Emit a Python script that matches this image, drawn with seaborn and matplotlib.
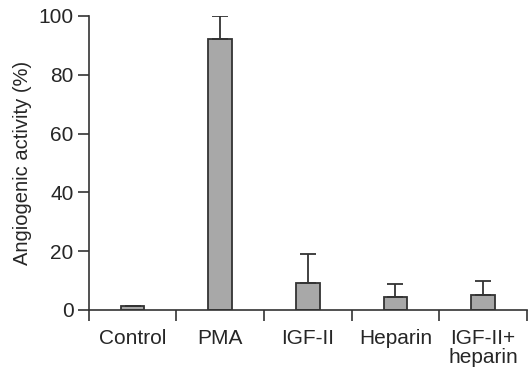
import matplotlib
matplotlib.use("Agg")
import matplotlib.pyplot as plt
import seaborn as sns
import numpy as np
import pandas as pd

categories = ["Control", "PMA", "IGF-II", "Heparin", "IGF-II+\nheparin"]
values = [1.5, 92, 9, 4.3, 5]
errors = [0, 8, 10, 4.6, 5]

sns.set_style("ticks")
plt.rcParams['font.family'] = ['Liberation Sans', 'DejaVu Sans']

fig = plt.figure(figsize=(5.29, 3.69), dpi=100)
ax = fig.add_axes([0.168, 0.160, 0.828, 0.797])

df = pd.DataFrame({"cat": categories, "val": values})
sns.barplot(data=df, x="cat", y="val", order=categories, color="#a8a8a8",
            edgecolor="#333333", linewidth=1.3, width=0.27, saturation=1, ax=ax)

pos = np.arange(len(categories))
ax.errorbar(pos, values, yerr=[np.zeros(len(errors)), errors], fmt="none",
            ecolor="#333333", elinewidth=1.3, capsize=6, capthick=1.3)

ax.set_xlim(-0.5, len(categories) - 0.5)
ax.set_ylim(0, 100)
ax.set_yticks([0, 20, 40, 60, 80, 100])
ax.set_xticks(pos)
ax.set_xticklabels(categories, fontsize=15, linespacing=1.0)
ax.set_xticks(np.arange(-0.5, len(categories), 1.0), minor=True)
ax.tick_params(axis="x", which="major", length=0, pad=14)
ax.tick_params(axis="x", which="minor", length=8, width=1.2, color="#333333")
ax.tick_params(axis="y", length=8, width=1.2, color="#333333", labelsize=15, pad=3)
ax.set_xlabel("")
ax.set_ylabel("Angiogenic activity (%)", fontsize=14.5, labelpad=5)
for s in ["left", "bottom"]:
    ax.spines[s].set_color("#333333")
    ax.spines[s].set_linewidth(1.2)
sns.despine(ax=ax)

fig.savefig("out.png", dpi=100)
